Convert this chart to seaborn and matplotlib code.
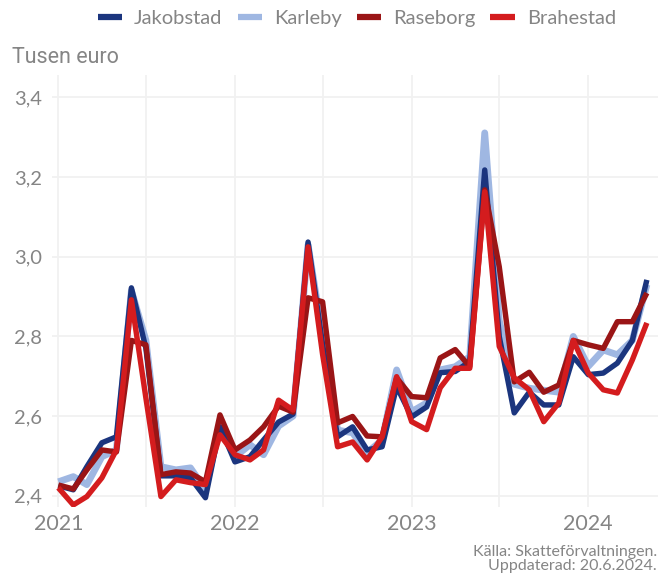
import pandas as pd
import matplotlib
matplotlib.use("Agg")
import matplotlib.pyplot as plt
import matplotlib.dates as mdates
import seaborn as sns

# Monthly values, thousand euro, Jan 2021 - May 2024
months = pd.date_range("2021-01-01", "2024-05-01", freq="MS")

jakobstad = [2.425, 2.415, 2.473, 2.533, 2.548, 2.922, 2.77, 2.45, 2.45, 2.445, 2.395, 2.573,
             2.485, 2.498, 2.54, 2.585, 2.605, 3.037, 2.78, 2.548, 2.573, 2.515, 2.523, 2.674,
             2.598, 2.623, 2.709, 2.712, 2.737, 3.218, 2.80, 2.608, 2.66, 2.628, 2.628, 2.749,
             2.704, 2.708, 2.733, 2.79, 2.942]
karleby = [2.435, 2.448, 2.428, 2.498, 2.515, 2.915, 2.79, 2.473, 2.465, 2.47, 2.415, 2.575,
           2.498, 2.528, 2.503, 2.575, 2.60, 3.03, 2.80, 2.565, 2.558, 2.508, 2.54, 2.716,
           2.611, 2.633, 2.716, 2.724, 2.749, 3.311, 2.84, 2.68, 2.67, 2.665, 2.66, 2.80,
           2.725, 2.766, 2.754, 2.79, 2.93]
raseborg = [2.427, 2.417, 2.465, 2.515, 2.51, 2.79, 2.779, 2.453, 2.46, 2.457, 2.435, 2.603,
            2.515, 2.54, 2.573, 2.625, 2.61, 2.897, 2.887, 2.583, 2.599, 2.55, 2.548, 2.696,
            2.649, 2.646, 2.746, 2.767, 2.724, 3.168, 2.975, 2.686, 2.71, 2.66, 2.678, 2.79,
            2.779, 2.77, 2.837, 2.837, 2.909]
brahestad = [2.42, 2.377, 2.398, 2.445, 2.515, 2.892, 2.645, 2.398, 2.44, 2.433, 2.428, 2.553,
             2.503, 2.49, 2.515, 2.64, 2.615, 3.025, 2.755, 2.523, 2.535, 2.49, 2.548, 2.699,
             2.586, 2.566, 2.671, 2.72, 2.72, 3.163, 2.775, 2.696, 2.666, 2.586, 2.633, 2.79,
             2.708, 2.666, 2.658, 2.741, 2.834]

series = {"Jakobstad": jakobstad, "Karleby": karleby, "Raseborg": raseborg, "Brahestad": brahestad}
colors = {"Jakobstad": "#1b357e", "Karleby": "#9fb7e2", "Raseborg": "#9a1516", "Brahestad": "#d41c1e"}
widths = {"Jakobstad": 3.9, "Karleby": 4.9, "Raseborg": 3.9, "Brahestad": 3.9}
draw_order = ["Karleby", "Jakobstad", "Raseborg", "Brahestad"]
legend_order = ["Jakobstad", "Karleby", "Raseborg", "Brahestad"]

df = pd.DataFrame({"month": months, **series}).melt(id_vars="month", var_name="kommun", value_name="value")

sns.set_theme(style="white")
plt.rcParams["font.family"] = ["Lato", "DejaVu Sans"]
text_gray = "#858585"

fig = plt.figure(figsize=(6.67, 5.78), dpi=100)
ax = fig.add_axes([0.078, 0.123, 0.9085, 0.747])

for name in draw_order:
    sns.lineplot(data=df[df["kommun"] == name], x="month", y="value", ax=ax,
                 color=colors[name], linewidth=widths[name], label=name,
                 solid_joinstyle="round", solid_capstyle="butt", legend=False)

ax.set_xlim(pd.Timestamp("2020-12-19"), pd.Timestamp("2024-05-24"))
ax.set_ylim(2.372, 3.456)
yt = [2.4, 2.6, 2.8, 3.0, 3.2, 3.4]
ax.set_yticks(yt)
ax.set_yticklabels([f"{v:.1f}".replace(".", ",") for v in yt])
ax.xaxis.set_major_locator(mdates.YearLocator())
ax.xaxis.set_major_formatter(mdates.DateFormatter("%Y"))
ax.xaxis.set_minor_locator(mdates.MonthLocator(bymonth=7))

ax.grid(True, which="major", color="#f1f1f1", linewidth=1.3)
ax.grid(True, which="minor", axis="x", color="#f1f1f1", linewidth=1.3)
ax.set_axisbelow(True)
for s in ax.spines.values():
    s.set_visible(False)
ax.tick_params(axis="both", which="both", length=0)
ax.tick_params(axis="y", labelsize=14.5, labelcolor=text_gray, pad=7)
ax.tick_params(axis="x", labelsize=15.5, labelcolor=text_gray, pad=5)
ax.set_xlabel("")
ax.set_ylabel("")

fig.text(0.018, 0.9, "Tusen euro", fontsize=15.5, color=text_gray, ha="left", va="center",
         family=["Roboto", "DejaVu Sans"])

handles = [plt.Line2D([], [], color=colors[n], linewidth=4.5, solid_capstyle="butt")
           for n in legend_order]
fig.legend(handles, legend_order, loc="center", bbox_to_anchor=(0.535, 0.968), ncol=4,
           frameon=False, handlelength=1.2, handletextpad=0.6,
           columnspacing=0.75, labelcolor=text_gray, prop={"size": 14.5})

fig.text(0.985, 0.008, "Källa: Skatteförvaltningen.\nUppdaterad: 20.6.2024.", fontsize=11.5,
         color=text_gray, ha="right", va="bottom", linespacing=1.0)

fig.savefig("out.png", dpi=100)
